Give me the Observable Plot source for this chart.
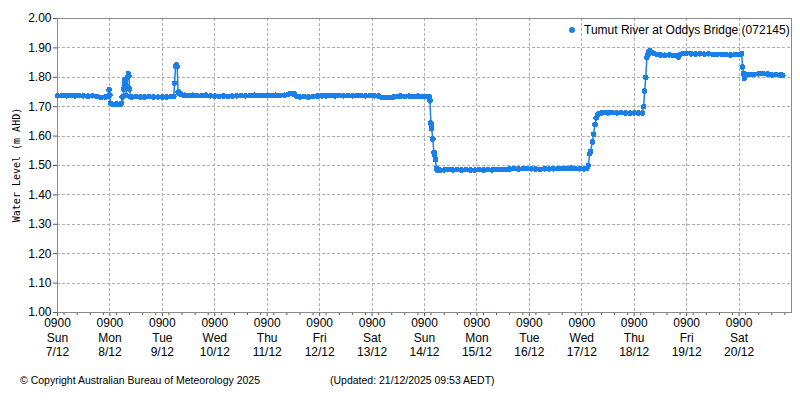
<!DOCTYPE html>
<html>
<head>
<meta charset="utf-8">
<script src="https://cdn.jsdelivr.net/npm/d3@7"></script>
<script src="https://cdn.jsdelivr.net/npm/@observablehq/plot@0.6"></script>
<style>
  html, body { margin: 0; padding: 0; background: #fff; }
  #chart { position: relative; width: 800px; height: 400px; }
  .ov { position: absolute; white-space: nowrap; color: #000; margin: 0; line-height: 1; }
  #ylabel { left: 17px; top: 165px; transform: translate(-50%, -50%) rotate(-90deg); font-family: 'DejaVu Sans Mono', monospace; font-size: 10px; }
  #legend { left: 584px; top: 24px; font-family: 'Liberation Sans', Arial, sans-serif; font-size: 12px; }
  #legdot { position: absolute; left: 569px; top: 27px; width: 6px; height: 6px; border-radius: 50%; }
  .foot { top: 375px; font-family: 'Liberation Sans', Arial, sans-serif; font-size: 10.5px; }
</style>
</head>
<body>
<div id="chart"></div>
<script>
// ---- Data: hours since 0900 Sun 7/12/2025, water level (m AHD) ----
const seriesName = "Tumut River at Oddys Bridge (072145)";
const hours = [
  0, 2, 4, 6, 8, 10, 12, 14, 16, 18, 20, 22, 23, 23.6, 24.0, 24.2, 25, 26, 27, 28, 29, 29.4,
  29.6, 30.0, 30.3, 30.6, 30.9, 31.2, 31.5, 31.8, 32.1, 32.4, 32.7, 33.0, 33.3,
  34, 36, 38, 40, 42, 44, 46, 48, 50, 52, 53.2, 53.6, 54.0, 54.4, 54.8, 55.2, 55.6, 56.5,
  58, 60, 62, 64, 66, 68, 70, 72, 74, 76, 78, 80, 82, 84, 86, 88, 90, 92, 94, 96, 98, 100,
  102, 104, 105.5, 106.5, 107.5, 108.5, 109.5, 111, 113, 115, 117, 119, 121, 123, 125, 127,
  129, 131, 133, 135, 137, 139, 141, 143, 145, 147, 148.5, 150, 152, 154, 155.5, 157, 159,
  161, 163, 165, 167, 169, 170.2,
  170.5, 170.9, 171.1, 171.3, 171.8, 172.3, 172.6, 173.0, 173.5, 173.9,
  175, 177, 179, 181, 183, 185, 187, 189, 191, 193, 195, 197, 199, 201, 203, 205, 207, 209,
  211, 213, 215, 217, 219, 221, 223, 225, 227, 229, 231, 233, 235, 237, 239, 241, 242.3,
  243.0, 243.6, 244.0, 244.8, 245.4, 246.0, 246.6, 247.2, 248.0, 249,
  250, 252, 254, 256, 258, 260, 262, 264, 266, 267.8,
  268.3, 268.8, 269.3, 269.8, 270.2, 270.7, 271.2, 272.0, 273, 274.5, 276, 278, 280, 282,
  283.6, 284.3, 285, 286.5, 288, 290, 292, 294, 296, 298, 300, 302, 304, 306, 308, 310, 312,
  313.2, 313.6, 314, 314.4, 314.8, 315.6, 317, 319, 321, 323, 325, 327, 329, 331, 332
];
const levels = [
  1.737, 1.738, 1.737, 1.738, 1.737, 1.738, 1.737, 1.736, 1.737, 1.734, 1.732, 1.733, 1.734, 1.757, 1.740, 1.712, 1.709, 1.708, 1.709, 1.708, 1.709, 1.712,
  1.733, 1.735, 1.760, 1.778, 1.792, 1.780, 1.738, 1.770, 1.800, 1.812, 1.805, 1.760, 1.735,
  1.733, 1.734, 1.733, 1.733, 1.734, 1.733, 1.733, 1.733, 1.733, 1.734, 1.735, 1.780, 1.838, 1.842, 1.836, 1.750, 1.745, 1.743,
  1.739, 1.738, 1.739, 1.738, 1.738, 1.739, 1.737, 1.736, 1.735, 1.736, 1.735, 1.736, 1.737, 1.738, 1.737, 1.738, 1.739, 1.738, 1.738, 1.739, 1.738, 1.739,
  1.738, 1.739, 1.742, 1.745, 1.744, 1.743, 1.735, 1.733, 1.734, 1.733, 1.734, 1.736, 1.737, 1.737, 1.738, 1.737,
  1.738, 1.737, 1.738, 1.737, 1.738, 1.738, 1.737, 1.738, 1.737, 1.736, 1.732, 1.731, 1.731, 1.733, 1.735, 1.736, 1.735,
  1.736, 1.735, 1.736, 1.735, 1.734, 1.733,
  1.720, 1.645, 1.635, 1.625, 1.590, 1.545, 1.535, 1.520, 1.490, 1.485,
  1.484, 1.485, 1.486, 1.485, 1.486, 1.485, 1.486, 1.485, 1.484, 1.486, 1.485, 1.486, 1.485, 1.486, 1.487, 1.486, 1.488, 1.489,
  1.488, 1.489, 1.490, 1.489, 1.488, 1.487, 1.489, 1.488, 1.489, 1.490, 1.489, 1.490, 1.491, 1.490, 1.489, 1.488, 1.490,
  1.500, 1.540, 1.548, 1.580, 1.606, 1.640, 1.662, 1.672, 1.677, 1.679,
  1.680, 1.679, 1.680, 1.679, 1.680, 1.679, 1.678, 1.679, 1.679, 1.678,
  1.700, 1.753, 1.800, 1.868, 1.875, 1.888, 1.890, 1.884, 1.881, 1.878, 1.876, 1.875, 1.876, 1.874,
  1.873, 1.869, 1.877, 1.881, 1.882, 1.880, 1.879, 1.880, 1.879, 1.880, 1.878, 1.877, 1.878, 1.877, 1.876, 1.877, 1.878,
  1.880, 1.835, 1.813, 1.796, 1.807, 1.810, 1.809, 1.810, 1.812, 1.813, 1.811, 1.808, 1.809, 1.808, 1.807
];
const tickDays  = ["Sun","Mon","Tue","Wed","Thu","Fri","Sat","Sun","Mon","Tue","Wed","Thu","Fri","Sat"];
const tickDates = ["7/12","8/12","9/12","10/12","11/12","12/12","13/12","14/12","15/12","16/12","17/12","18/12","19/12","20/12"];
const yTicks = [1.00, 1.10, 1.20, 1.30, 1.40, 1.50, 1.60, 1.70, 1.80, 1.90, 2.00];
const yLabel = "Water Level (m AHD)";
const copyright = "\u00A9 Copyright Australian Bureau of Meteorology 2025";
const updated = "(Updated: 21/12/2025 09:53 AEDT)";

// ---- Build ----
const H = 3600e3;
const start = Date.UTC(2025, 11, 7, 9);
const end = start + 14 * 24 * H;
const data = hours.map((h, i) => ({t: new Date(start + h * H), v: levels[i]}));
const dayTicks = tickDays.map((_, i) => new Date(start + i * 24 * H));
const minorTicks = d3.utcHour.every(6).range(new Date(start), new Date(end + 1));
const color = "#1b7fe9";
const gridColor = "#b0b0b0";
const font = "'Liberation Sans', Arial, sans-serif";

const chart = Plot.plot({
  width: 800, height: 400,
  marginLeft: 57, marginRight: 9, marginTop: 18, marginBottom: 88,
  style: {fontFamily: font, fontSize: "12px", color: "#000", background: "#fff"},
  x: {type: "utc", domain: [new Date(start), new Date(end)]},
  y: {domain: [1.0, 2.0]},
  marks: [
    Plot.ruleX(dayTicks, {stroke: gridColor, strokeDasharray: "3 2", shapeRendering: "crispEdges"}),
    Plot.ruleY(yTicks, {stroke: gridColor, strokeDasharray: "3 2", shapeRendering: "crispEdges"}),
    Plot.axisX(minorTicks, {tickSize: 3, tickFormat: () => "", stroke: "#555", label: null}),
    Plot.axisX(dayTicks, {tickSize: 4, tickPadding: 0, stroke: "#555", label: null, fill: "#000", lineHeight: 1.22, fontSize: 12,
      tickFormat: (d) => { const i = Math.round((d - start) / (24 * H)); return `0900\n${tickDays[i]}\n${tickDates[i]}`; }}),
    Plot.axisY(yTicks, {tickSize: 4, tickPadding: 2, stroke: "#555", fill: "#000", tickFormat: ".2f", label: null, fontSize: 12}),
    Plot.frame({stroke: "#8a8a8a"}),
    Plot.line(data, {x: "t", y: "v", stroke: color, strokeWidth: 1.5}),
    Plot.dot(data, {x: "t", y: "v", r: 2.8, fill: color, stroke: "none", shapeRendering: "crispEdges"})
  ]
});

const host = document.getElementById("chart");
host.append(chart);

function overlay(id, cls, text) {
  const el = document.createElement("div");
  if (id) el.id = id;
  el.className = cls;
  el.textContent = text;
  host.append(el);
  return el;
}
overlay("ylabel", "ov", yLabel);
overlay("legend", "ov", seriesName);
const dot = overlay("legdot", "", "");
dot.style.background = color;
overlay(null, "ov foot", copyright).style.left = "20px";
overlay(null, "ov foot", updated).style.left = "330px";
</script>
</body>
</html>
